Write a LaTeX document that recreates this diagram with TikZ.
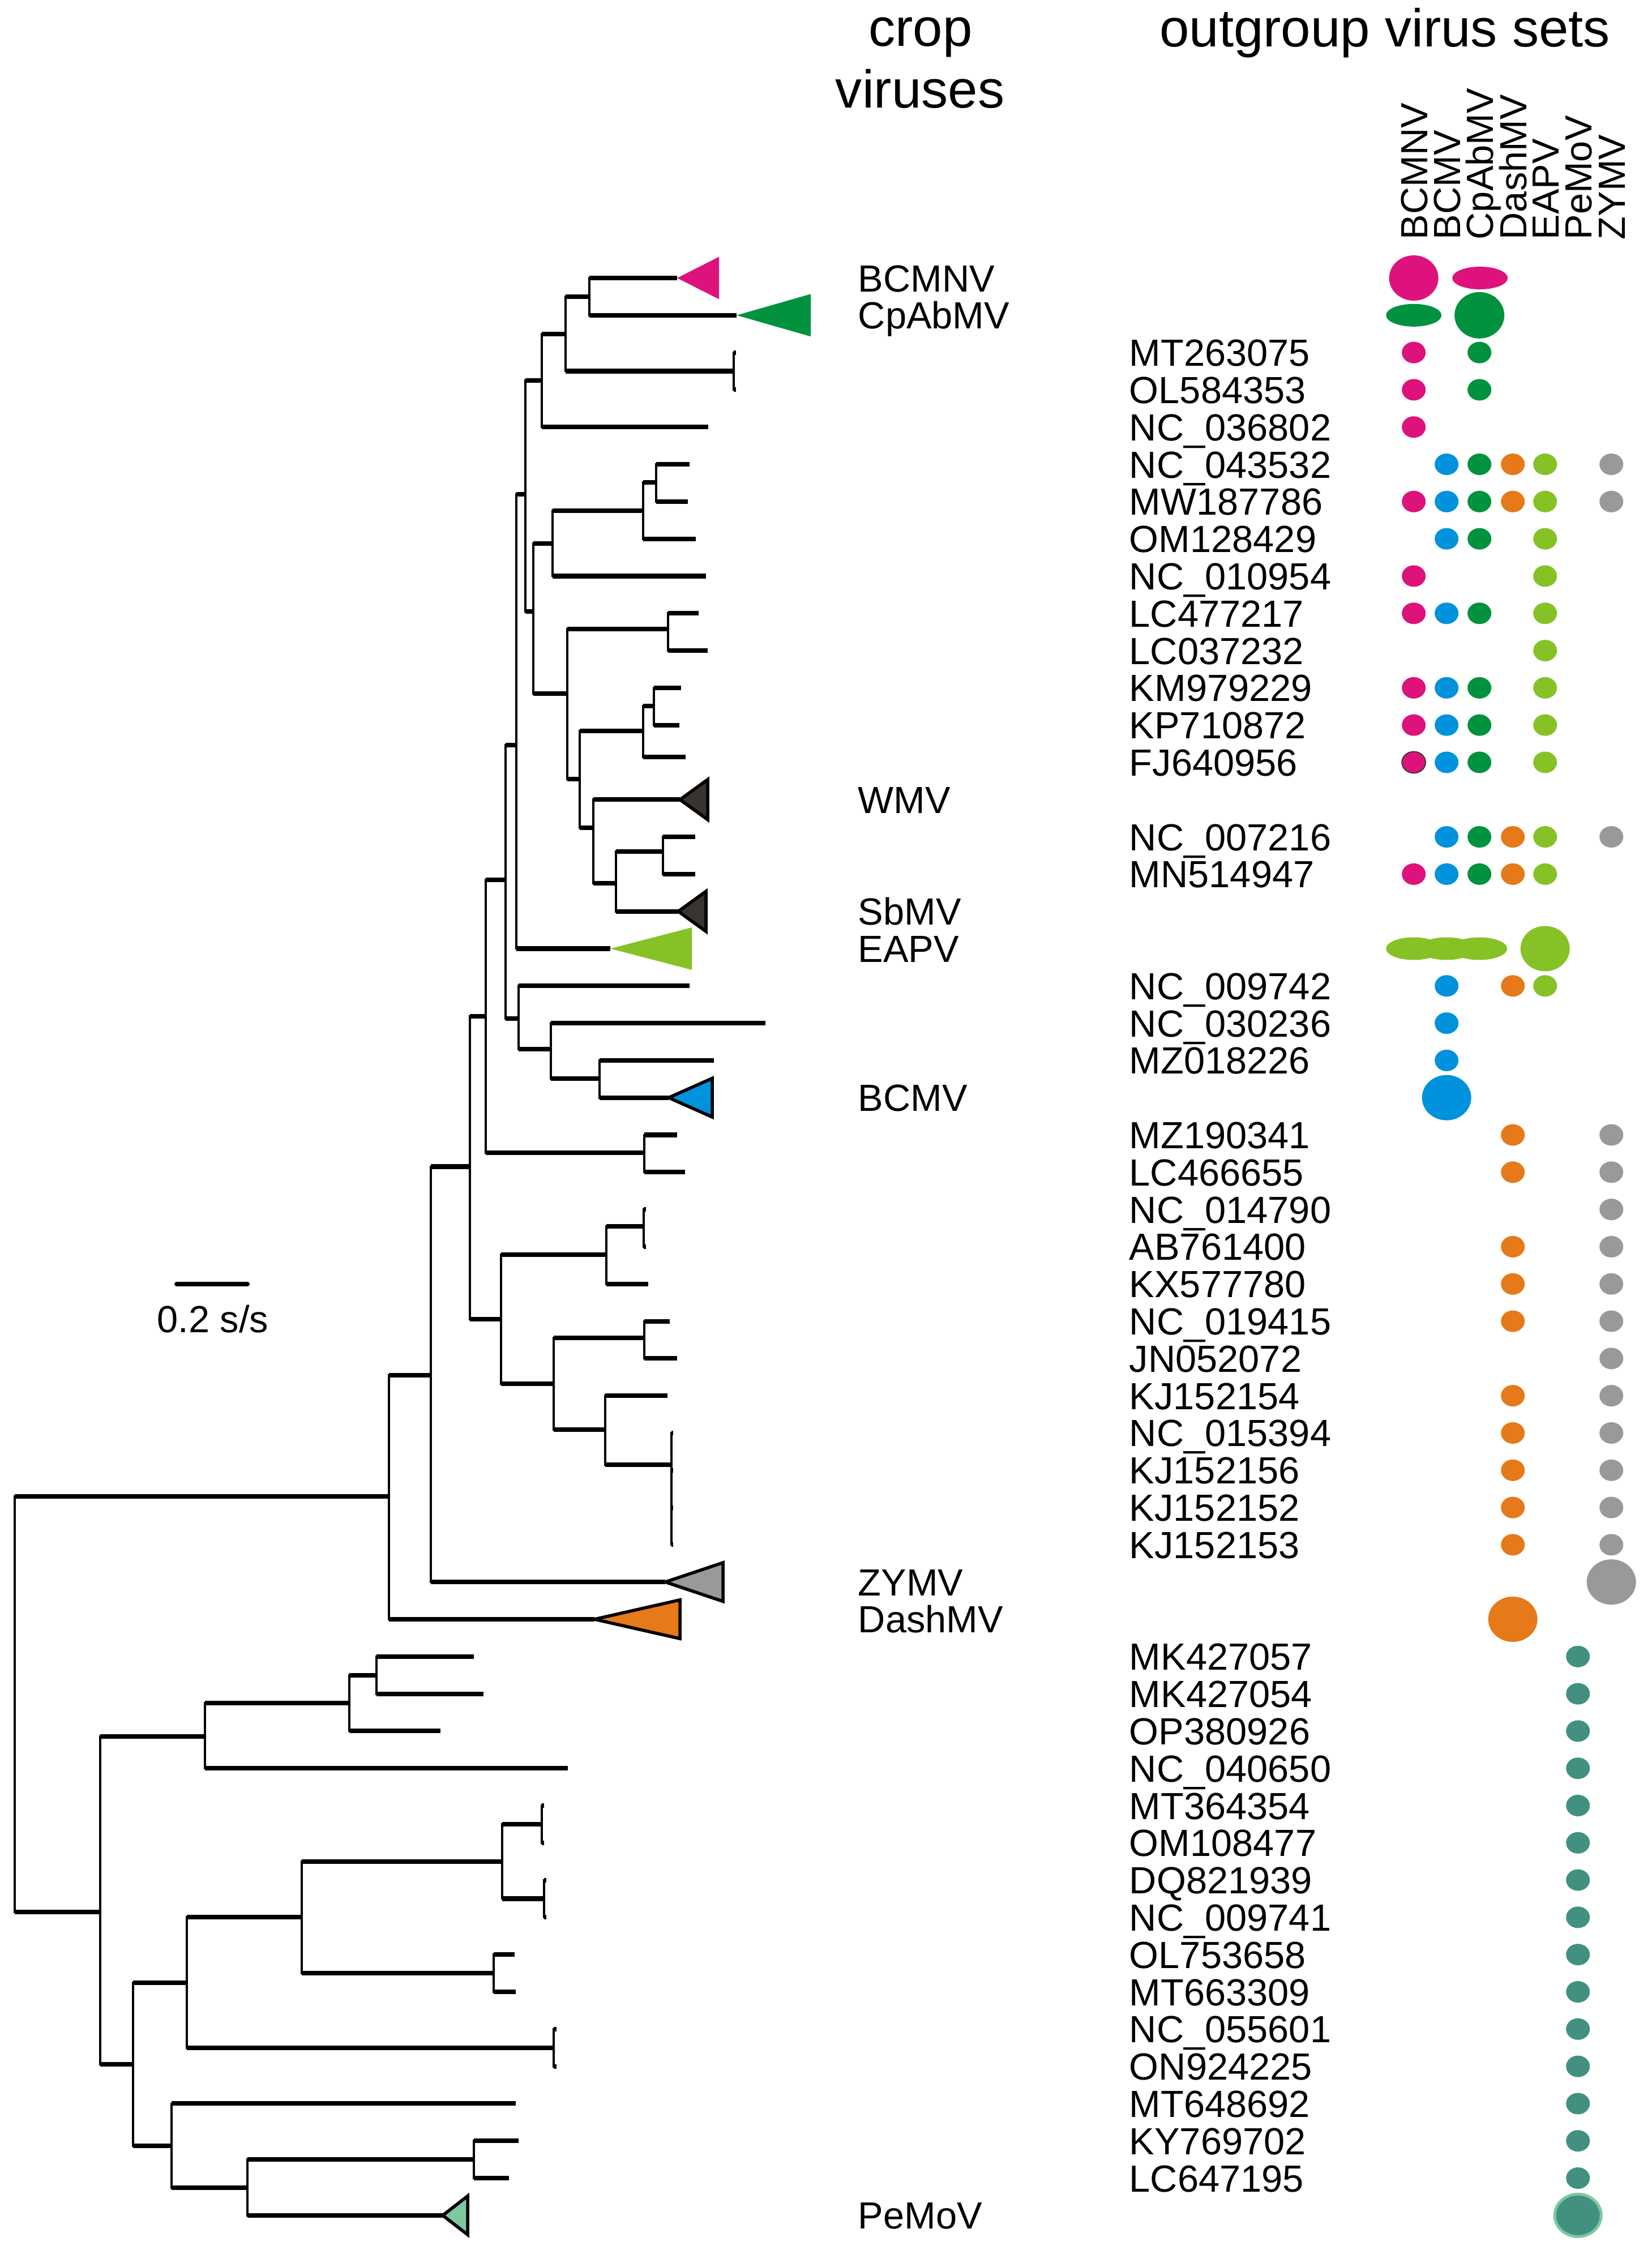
\documentclass[tikz,border=0pt]{standalone}
\usepackage{fontspec}
\setmainfont{Liberation Sans}
\definecolor{cpink}{RGB}{222,18,124}
\definecolor{cblue}{RGB}{0,146,221}
\definecolor{cgreen}{RGB}{0,146,63}
\definecolor{corange}{RGB}{230,121,25}
\definecolor{clime}{RGB}{134,194,38}
\definecolor{cgray}{RGB}{153,153,153}
\definecolor{cteal}{RGB}{66,145,128}
\definecolor{cmint}{RGB}{124,200,160}
\definecolor{cdark}{RGB}{56,52,48}

\begin{document}
\begin{tikzpicture}[x=0.1mm,y=-6.58mm,
branch/.style={line width=2.3pt},
stem/.style={line width=1.1pt},
clade/.style={line width=1.6pt},
acc/.style={anchor=base west,yshift=-2.4mm,inner sep=0pt,font=\fontsize{19pt}{22pt}\selectfont},
hdr/.style={anchor=base,inner sep=0pt,font=\fontsize{26.8pt}{31pt}\selectfont},
colhdr/.style={rotate=90,anchor=base west,inner sep=0pt,font=\fontsize{19pt}{22pt}\selectfont},
dotsize/.style={x radius=2.1mm,y radius=1.9mm},
bigsize/.style={x radius=4.35mm,y radius=4mm},
flatsize/.style={x radius=4.9mm,y radius=2mm}]
\useasboundingbox (0,-7.462) rectangle (2917,52.93);

% headers
\node[hdr] (crop) at (1626,-6.216) {crop};
\node[hdr] (viruses) at (1625,-4.574) {viruses};
\node[hdr] (outgroup) at (2446,-6.201) {outgroup virus sets};
\node[colhdr] (hBCMNV) at (2521,-1.018) {BCMNV};
\node[colhdr] (hBCMV) at (2579,-1.018) {BCMV};
\node[colhdr] (hCpAbMV) at (2637,-1.018) {CpAbMV};
\node[colhdr] (hDashMV) at (2696,-1.018) {DashMV};
\node[colhdr] (hEAPV) at (2753,-1.018) {EAPV};
\node[colhdr] (hPeMoV) at (2811,-1.018) {PeMoV};
\node[colhdr] (hZYMV) at (2870,-1.018) {ZYMV};

% tips
\coordinate (t-BCMNV) at (1196,0);
\coordinate (t-CpAbMV) at (1301,1);
\coordinate (t-MT263075) at (1300,2);
\coordinate (t-OL584353) at (1300,3);
\coordinate (t-NC036802) at (1251,4);
\coordinate (t-NC043532) at (1218,5);
\coordinate (t-MW187786) at (1215,6);
\coordinate (t-OM128429) at (1229,7);
\coordinate (t-NC010954) at (1247,8);
\coordinate (t-LC477217) at (1234,9);
\coordinate (t-LC037232) at (1250,10);
\coordinate (t-KM979229) at (1203,11);
\coordinate (t-KP710872) at (1200,12);
\coordinate (t-FJ640956) at (1211,12.86);
\coordinate (t-WMV) at (1201,14);
\coordinate (t-NC007216) at (1228,15);
\coordinate (t-MN514947) at (1228,16);
\coordinate (t-SbMV) at (1198,17);
\coordinate (t-EAPV) at (1078,18);
\coordinate (t-NC009742) at (1218,19);
\coordinate (t-NC030236) at (1352,20);
\coordinate (t-MZ018226) at (1261,21);
\coordinate (t-BCMV) at (1181,22);
\coordinate (t-MZ190341) at (1196,23);
\coordinate (t-LC466655) at (1210,24);
\coordinate (t-NC014790) at (1141,25);
\coordinate (t-AB761400) at (1141,26);
\coordinate (t-KX577780) at (1145,27);
\coordinate (t-NC019415) at (1183,28);
\coordinate (t-JN052072) at (1196,29);
\coordinate (t-KJ152154) at (1179,30);
\coordinate (t-NC015394) at (1189,31);
\coordinate (t-KJ152156) at (1189,32);
\coordinate (t-KJ152152) at (1189,33);
\coordinate (t-KJ152153) at (1189,34);
\coordinate (t-ZYMV) at (1175,35);
\coordinate (t-DashMV) at (1050,36);
\coordinate (t-MK427057) at (837,37);
\coordinate (t-MK427054) at (854,38);
\coordinate (t-OP380926) at (778,39);
\coordinate (t-NC040650) at (1003,40);
\coordinate (t-MT364354) at (961,41);
\coordinate (t-OM108477) at (961,42);
\coordinate (t-DQ821939) at (965,43);
\coordinate (t-NC009741) at (965,44);
\coordinate (t-OL753658) at (909,45);
\coordinate (t-MT663309) at (911,46);
\coordinate (t-NC055601) at (983,47);
\coordinate (t-ON924225) at (983,48);
\coordinate (t-MT648692) at (911,49);
\coordinate (t-KY769702) at (916,50);
\coordinate (t-LC647195) at (899,51);
\coordinate (t-PeMoV) at (782,52);

% inner nodes
\coordinate (nbc) at (1041,0.5);
\coordinate (nmt) at (1296,2.5);
\coordinate (na1) at (999,1.5);
\coordinate (na2) at (957,2.75);
\coordinate (ntop) at (928,5.81);
\coordinate (nb1) at (1159,5.49);
\coordinate (nb2) at (1136,6.25);
\coordinate (nb3) at (976,7.13);
\coordinate (nbc2) at (942,8.95);
\coordinate (nc1) at (1180,9.42);
\coordinate (nc2) at (1155,11.49);
\coordinate (nc3) at (1136,12.16);
\coordinate (nc4) at (1171,15.4);
\coordinate (nc5) at (1088,16.25);
\coordinate (nc6) at (1048,14.76);
\coordinate (nc7) at (1024,13.45);
\coordinate (nc8) at (1002,11.16);
\coordinate (ne) at (912,12.53);
\coordinate (nf) at (893,16.15);
\coordinate (ng) at (916,19.88);
\coordinate (nh) at (973,20.7);
\coordinate (ni) at (1059,21.49);
\coordinate (nj) at (858,19.82);
\coordinate (nk) at (1138,23.48);
\coordinate (nl) at (830,23.85);
\coordinate (nm) at (885,27.95);
\coordinate (nn) at (1071,26.22);
\coordinate (np) at (1137,25.46);
\coordinate (no) at (978,29.68);
\coordinate (nq) at (1138,28.45);
\coordinate (nr) at (1069,30.91);
\coordinate (ns) at (1186,31.85);
\coordinate (nt) at (761,29.45);
\coordinate (nu) at (687,32.7);
\coordinate (root) at (26,38.28);
\coordinate (nv) at (177,43.86);
\coordinate (nw) at (362,39.15);
\coordinate (ny) at (617,38.25);
\coordinate (nz) at (665,37.5);
\coordinate (nx) at (235,47.95);
\coordinate (naa) at (330,45.76);
\coordinate (nab) at (303,50.14);
\coordinate (nac) at (533,44.0);
\coordinate (nad) at (978,47.5);
\coordinate (nae) at (887,42.5);
\coordinate (naf) at (872,45.5);
\coordinate (nag) at (957,41.5);
\coordinate (nah) at (961,43.5);
\coordinate (nai) at (437,51.26);
\coordinate (naj) at (837,50.5);

% branches
\foreach \p/\c in {nbc/t-BCMNV,nbc/t-CpAbMV,nmt/t-MT263075,nmt/t-OL584353,
  na1/nbc,na1/nmt,na2/na1,na2/t-NC036802,ntop/na2,ntop/nbc2,
  nb1/t-NC043532,nb1/t-MW187786,nb2/nb1,nb2/t-OM128429,nb3/nb2,nb3/t-NC010954,
  nbc2/nb3,nbc2/nc8,nc8/nc1,nc8/nc7,nc1/t-LC477217,nc1/t-LC037232,
  nc7/nc3,nc7/nc6,nc3/nc2,nc3/t-FJ640956,nc2/t-KM979229,nc2/t-KP710872,
  nc6/t-WMV,nc6/nc5,nc5/nc4,nc5/t-SbMV,nc4/t-NC007216,nc4/t-MN514947,
  ne/ntop,ne/t-EAPV,nf/ne,nf/ng,ng/t-NC009742,ng/nh,nh/t-NC030236,nh/ni,
  ni/t-MZ018226,ni/t-BCMV,nj/nf,nj/nk,nk/t-MZ190341,nk/t-LC466655,
  nl/nj,nl/nm,nm/nn,nm/no,nn/np,nn/t-KX577780,np/t-NC014790,np/t-AB761400,
  no/nq,no/nr,nq/t-NC019415,nq/t-JN052072,nr/t-KJ152154,nr/ns,
  ns/t-NC015394,ns/t-KJ152156,ns/t-KJ152152,ns/t-KJ152153,
  nt/nl,nt/t-ZYMV,nu/nt,nu/t-DashMV,root/nu,root/nv,
  nv/nw,nv/nx,nw/ny,nw/t-NC040650,ny/nz,ny/t-OP380926,nz/t-MK427057,nz/t-MK427054,
  nx/naa,nx/nab,naa/nac,naa/nad,nac/nae,nac/naf,nae/nag,nae/nah,
  nag/t-MT364354,nag/t-OM108477,nah/t-DQ821939,nah/t-NC009741,
  naf/t-OL753658,naf/t-MT663309,nad/t-NC055601,nad/t-ON924225,
  nab/t-MT648692,nab/nai,nai/naj,nai/t-PeMoV,naj/t-KY769702,naj/t-LC647195}{
  \draw[stem] (\p) |- (\c);
  \draw[branch] (\p |- \c) -- (\c);
}

% collapsed clades
\fill[cpink] (t-BCMNV) -- ++(74,-0.57) -- ++(0,1.14) -- cycle;
\fill[cgreen] (t-CpAbMV) -- ++(131,-0.57) -- ++(0,1.14) -- cycle;
\filldraw[clade,fill=cdark] (t-WMV) -- ++(49,-0.54) -- ++(0,1.08) -- cycle;
\filldraw[clade,fill=cdark] (t-SbMV) -- ++(49,-0.54) -- ++(0,1.08) -- cycle;
\fill[clime] (t-EAPV) -- ++(144,-0.57) -- ++(0,1.14) -- cycle;
\filldraw[clade,fill=cblue] (t-BCMV) -- ++(77,-0.52) -- ++(0,1.04) -- cycle;
\filldraw[clade,fill=cgray] (t-ZYMV) -- ++(102,-0.52) -- ++(0,1.04) -- cycle;
\filldraw[clade,fill=corange] (t-DashMV) -- ++(151,-0.52) -- ++(0,1.04) -- cycle;
\filldraw[clade,fill=cmint] (t-PeMoV) -- ++(44,-0.52) -- ++(0,1.04) -- cycle;

% crop virus labels
\node[acc] (BCMNV) at (1515,0) {BCMNV};
\node[acc] (CpAbMV) at (1515,1) {CpAbMV};
\node[acc] (WMV) at (1515,14) {WMV};
\node[acc] (SbMV) at (1515,17) {SbMV};
\node[acc] (EAPV) at (1515,18) {EAPV};
\node[acc] (BCMV) at (1515,22) {BCMV};
\node[acc] (ZYMV) at (1515,35) {ZYMV};
\node[acc] (DashMV) at (1515,36) {DashMV};
\node[acc] (PeMoV) at (1515,52) {PeMoV};

% accession labels
\node[acc] (MT263075) at (1994,2) {MT263075};
\node[acc] (OL584353) at (1994,3) {OL584353};
\node[acc] (NC036802) at (1994,4) {NC\_036802};
\node[acc] (NC043532) at (1994,5) {NC\_043532};
\node[acc] (MW187786) at (1994,6) {MW187786};
\node[acc] (OM128429) at (1994,7) {OM128429};
\node[acc] (NC010954) at (1994,8) {NC\_010954};
\node[acc] (LC477217) at (1994,9) {LC477217};
\node[acc] (LC037232) at (1994,10) {LC037232};
\node[acc] (KM979229) at (1994,11) {KM979229};
\node[acc] (KP710872) at (1994,12) {KP710872};
\node[acc] (FJ640956) at (1994,13) {FJ640956};
\node[acc] (NC007216) at (1994,15) {NC\_007216};
\node[acc] (MN514947) at (1994,16) {MN514947};
\node[acc] (NC009742) at (1994,19) {NC\_009742};
\node[acc] (NC030236) at (1994,20) {NC\_030236};
\node[acc] (MZ018226) at (1994,21) {MZ018226};
\node[acc] (MZ190341) at (1994,23) {MZ190341};
\node[acc] (LC466655) at (1994,24) {LC466655};
\node[acc] (NC014790) at (1994,25) {NC\_014790};
\node[acc] (AB761400) at (1994,26) {AB761400};
\node[acc] (KX577780) at (1994,27) {KX577780};
\node[acc] (NC019415) at (1994,28) {NC\_019415};
\node[acc] (JN052072) at (1994,29) {JN052072};
\node[acc] (KJ152154) at (1994,30) {KJ152154};
\node[acc] (NC015394) at (1994,31) {NC\_015394};
\node[acc] (KJ152156) at (1994,32) {KJ152156};
\node[acc] (KJ152152) at (1994,33) {KJ152152};
\node[acc] (KJ152153) at (1994,34) {KJ152153};
\node[acc] (MK427057) at (1994,37) {MK427057};
\node[acc] (MK427054) at (1994,38) {MK427054};
\node[acc] (OP380926) at (1994,39) {OP380926};
\node[acc] (NC040650) at (1994,40) {NC\_040650};
\node[acc] (MT364354) at (1994,41) {MT364354};
\node[acc] (OM108477) at (1994,42) {OM108477};
\node[acc] (DQ821939) at (1994,43) {DQ821939};
\node[acc] (NC009741) at (1994,44) {NC\_009741};
\node[acc] (OL753658) at (1994,45) {OL753658};
\node[acc] (MT663309) at (1994,46) {MT663309};
\node[acc] (NC055601) at (1994,47) {NC\_055601};
\node[acc] (ON924225) at (1994,48) {ON924225};
\node[acc] (MT648692) at (1994,49) {MT648692};
\node[acc] (KY769702) at (1994,50) {KY769702};
\node[acc] (LC647195) at (1994,51) {LC647195};

% outgroup virus sets
\foreach \r in {2,3,4,6,8,9,11,12,16} \fill[cpink] (2497,\r) ellipse [dotsize];
\filldraw[fill=cpink,draw=black!80,line width=0.5pt] (2497,13) ellipse [dotsize];
\foreach \r in {5,6,7,9,11,12,13,15,16,19,20,21} \fill[cblue] (2555,\r) ellipse [dotsize];
\foreach \r in {2,3,5,6,7,9,11,12,13,15,16} \fill[cgreen] (2613,\r) ellipse [dotsize];
\foreach \r in {5,6,15,16,19,23,24,26,27,28,30,31,32,33,34} \fill[corange] (2672,\r) ellipse [dotsize];
\foreach \r in {5,6,7,8,9,10,11,12,13,15,16,19} \fill[clime] (2729,\r) ellipse [dotsize];
\foreach \r in {37,...,51} \fill[cteal] (2787,\r) ellipse [dotsize];
\foreach \r in {5,6,15,23,24,25,26,27,28,29,30,31,32,33,34} \fill[cgray] (2846,\r) ellipse [dotsize];

% crop virus sets
\fill[cpink] (2497,0) ellipse [bigsize];
\fill[cpink] (2614,0) ellipse [flatsize];
\fill[cgreen] (2497,1) ellipse [flatsize];
\fill[cgreen] (2613,1) ellipse [x radius=4.4mm,y radius=4.1mm];
\fill[clime] (2497,18) ellipse [flatsize];
\fill[clime] (2555,18) ellipse [flatsize];
\fill[clime] (2613,18) ellipse [flatsize];
\fill[clime] (2729,18) ellipse [bigsize];
\fill[cblue] (2555,22) ellipse [bigsize];
\fill[cgray] (2846,35) ellipse [bigsize];
\fill[corange] (2672,36) ellipse [bigsize];
\filldraw[fill=cteal,draw=cmint,line width=1.4pt] (2787,52) ellipse [x radius=4.1mm,y radius=3.75mm];

% scale bar
\coordinate (sb1) at (312,27.0);
\coordinate (sb2) at (437,27.0);
\draw[line width=2.3pt,line cap=round] (sb1) -- (sb2);
\node[acc,anchor=base] (sblabel) at (376,27.935) {0.2 s/s};
\end{tikzpicture}
\end{document}
